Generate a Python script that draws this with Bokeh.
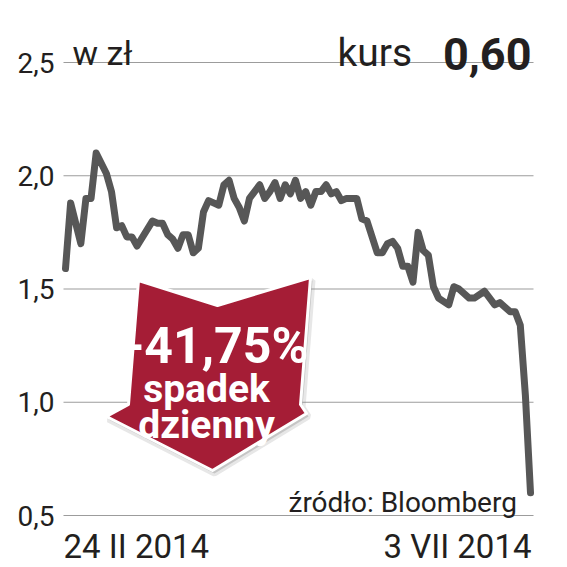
from bokeh.plotting import figure
from bokeh.models import Range1d
from bokeh.core.properties import value
from bokeh.embed import file_html
from bokeh.resources import INLINE

# ---- data (trading-day index from 24 II 2014, closing price in zł) ----
days = [0, 1, 3, 4, 5, 6, 8, 9, 10, 11, 12, 13, 14, 17, 18, 19, 20, 21, 22, 23,
        24, 25, 26, 27, 28, 30, 31, 32, 33, 34, 35, 36, 38, 39, 40, 41, 42, 43, 44,
        45, 46, 47, 48, 49, 50, 51, 52, 53, 54, 55, 57, 58, 59, 61, 62, 63, 64, 65,
        66, 67, 68, 69, 70, 71, 72, 73, 75, 76, 77, 79, 80, 82, 84, 85, 87, 88, 89,
        90, 91]
price = [1.59, 1.88, 1.70, 1.90, 1.90, 2.10, 2.01, 1.93, 1.77, 1.78, 1.73, 1.73,
         1.69, 1.80, 1.79, 1.79, 1.74, 1.72, 1.68, 1.74, 1.74, 1.66, 1.68, 1.84,
         1.89, 1.87, 1.96, 1.98, 1.90, 1.86, 1.80, 1.90, 1.96, 1.90, 1.93, 1.97,
         1.90, 1.96, 1.92, 1.98, 1.90, 1.93, 1.87, 1.93, 1.93, 1.96, 1.92, 1.93,
         1.89, 1.90, 1.90, 1.81, 1.80, 1.66, 1.66, 1.70, 1.71, 1.68, 1.60, 1.60,
         1.53, 1.75, 1.67, 1.65, 1.51, 1.46, 1.43, 1.51, 1.50, 1.46, 1.46, 1.49,
         1.43, 1.44, 1.40, 1.40, 1.34, 1.03, 0.60]

ticks = [0.5, 1.0, 1.5, 2.0, 2.5]
tick_labels = ["0,5", "1,0", "1,5", "2,0", "2,5"]
date_labels = ["24 II 2014", "3 VII 2014"]
unit_label = "w zł"
kurs_label = "kurs"
last_label = "0,60"
drop_labels = ["-41,75%", "spadek", "dzienny"]
source_label = "źródło: Bloomberg"

# ---- layout helpers (image pixel -> data) ----
PX_PER_DAY = 5.11
PX_PER_UNIT = 226.5
def dx(px):
    return (px - 65) / PX_PER_DAY
def vy(py):
    return 0.5 + (515 - py) / PX_PER_UNIT

W, H = 567, 567
p = figure(width=W, height=H, x_range=Range1d(dx(0), dx(W)),
           y_range=Range1d(vy(H), vy(0)), output_backend="svg",
           toolbar_location=None, x_axis_location=None, y_axis_location=None,
           min_border=0)
p.grid.visible = False
p.outline_line_color = None
p.background_fill_color = "white"
p.border_fill_color = "white"

FONT = "Roboto"
DARK = "#231f20"

# gridlines
p.segment(x0=[dx(63)] * len(ticks), x1=[dx(533)] * len(ticks), y0=ticks, y1=ticks,
          line_color="#9c9c9c", line_width=1.2)
# tick labels
p.text(x=[dx(54)] * len(ticks), y=ticks, text=tick_labels, text_font=value(FONT),
       text_font_size="28px", text_align="right", text_baseline="middle",
       text_color=DARK)

# price line
p.line(days, price, line_color="#575757", line_width=7, line_join="round",
       line_cap="round")

# arrow badge
arrow_px = [(138, 280), (217, 305), (310, 277), (300, 404), (306, 413),
            (212, 470), (106, 416), (128, 404)]
ax = [dx(a) for a, b in arrow_px]
ay = [vy(b) for a, b in arrow_px]
sx = [dx(a + 2) for a, b in arrow_px]
sy = [vy(b + 3) for a, b in arrow_px]
p.patch(sx, sy, fill_color="#888888", fill_alpha=0.35, line_color="#888888",
        line_alpha=0.2, line_width=6)
p.patch(ax, ay, fill_color="#a51d36", line_color="white", line_width=3,
        line_join="round")

p.text(x=[dx(216)], y=[vy(345)], text=[drop_labels[0]], text_font=value(FONT),
       text_font_style="bold", text_font_size="50px", text_align="center",
       text_baseline="alphabetic", text_color="white")
p.text(x=[dx(206), dx(206)], y=[vy(388), vy(424)], text=drop_labels[1:],
       text_font=value(FONT), text_font_style="bold", text_font_size="39px",
       text_align="center", text_baseline="alphabetic", text_color="white")

# header texts
p.text(x=[dx(72)], y=[vy(52)], text=[unit_label], text_font=value(FONT),
       text_font_size="34px", text_align="left", text_baseline="alphabetic",
       text_color=DARK)
p.text(x=[dx(337)], y=[vy(52)], text=[kurs_label], text_font=value(FONT),
       text_font_size="39px", text_align="left", text_baseline="alphabetic",
       text_color=DARK)
p.text(x=[dx(531)], y=[vy(53)], text=[last_label], text_font=value(FONT),
       text_font_style="bold", text_font_size="45px", text_align="right",
       text_baseline="alphabetic", text_color=DARK)

# source
p.text(x=[dx(288)], y=[vy(502)], text=[source_label], text_font=value(FONT),
       text_font_size="28px", text_align="left", text_baseline="alphabetic",
       text_color=DARK)

# date labels
p.text(x=[dx(63), dx(531)], y=[vy(546), vy(546)], text=date_labels,
       text_font=value(FONT), text_font_size="33px",
       text_align=["left", "right"], text_baseline="alphabetic", text_color=DARK)

open("out.html", "w").write(file_html(p, INLINE))
